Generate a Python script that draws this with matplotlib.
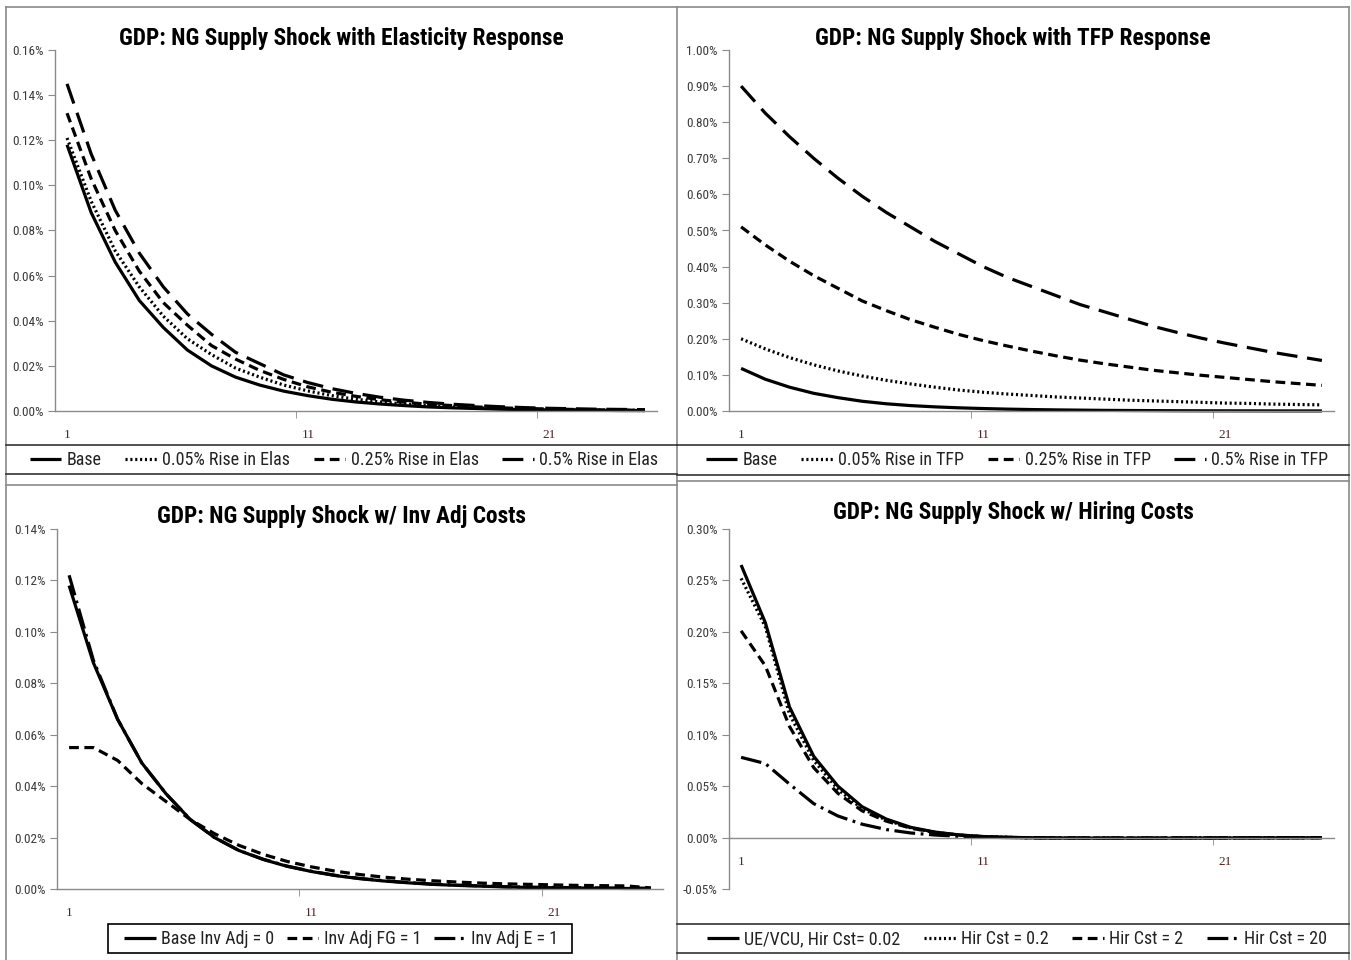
import matplotlib
matplotlib.use("Agg")
import matplotlib.pyplot as plt
from matplotlib import font_manager
from matplotlib.lines import Line2D
from matplotlib.patches import Rectangle
import numpy as np

# GDP impulse responses (% deviation), 25 quarters after the NG supply shock
periods = np.arange(1, 26)

base = [0.118, 0.088, 0.066, 0.049, 0.037, 0.027, 0.020, 0.015, 0.0115, 0.0088,
        0.0068, 0.0052, 0.0040, 0.0031, 0.0024, 0.0018, 0.0014, 0.0011, 0.0008, 0.0006,
        0.0005, 0.0004, 0.0003, 0.0002, 0.0002]

elas_005 = [0.121, 0.093, 0.071, 0.055, 0.042, 0.032, 0.025, 0.019, 0.015, 0.0115,
            0.0089, 0.0068, 0.0052, 0.0040, 0.0031, 0.0024, 0.0018, 0.0014, 0.0011, 0.0008,
            0.0006, 0.0005, 0.0004, 0.0003, 0.0002]
elas_025 = [0.132, 0.103, 0.080, 0.062, 0.048, 0.038, 0.029, 0.023, 0.018, 0.014,
            0.0107, 0.0083, 0.0065, 0.0050, 0.0039, 0.0030, 0.0024, 0.0018, 0.0014, 0.0011,
            0.0009, 0.0007, 0.0005, 0.0004, 0.0003]
elas_05 = [0.145, 0.114, 0.089, 0.070, 0.055, 0.043, 0.034, 0.026, 0.021, 0.016,
           0.0126, 0.0099, 0.0078, 0.0061, 0.0048, 0.0038, 0.0030, 0.0024, 0.0019, 0.0015,
           0.0012, 0.0010, 0.0008, 0.0007, 0.0006]

tfp_005 = [0.200, 0.172, 0.148, 0.128, 0.111, 0.097, 0.085, 0.075, 0.066, 0.058,
           0.052, 0.047, 0.043, 0.039, 0.036, 0.033, 0.030, 0.028, 0.026, 0.024,
           0.022, 0.021, 0.019, 0.018, 0.017]
tfp_025 = [0.510, 0.460, 0.415, 0.375, 0.340, 0.305, 0.278, 0.253, 0.232, 0.212,
           0.195, 0.180, 0.166, 0.153, 0.141, 0.131, 0.122, 0.113, 0.106, 0.099,
           0.093, 0.087, 0.081, 0.076, 0.071]
tfp_05 = [0.900, 0.825, 0.760, 0.700, 0.645, 0.595, 0.550, 0.510, 0.470, 0.435,
          0.400, 0.370, 0.345, 0.320, 0.295, 0.275, 0.255, 0.235, 0.218, 0.202,
          0.188, 0.175, 0.162, 0.151, 0.140]

inv_fg = [0.055, 0.055, 0.050, 0.041, 0.034, 0.027, 0.0215, 0.017, 0.0135, 0.0107,
          0.0086, 0.0069, 0.0056, 0.0046, 0.0038, 0.0032, 0.0027, 0.0023, 0.0020, 0.0018,
          0.0016, 0.0014, 0.0013, 0.0012, 0.0004]
inv_e = [0.122, 0.089, 0.066, 0.049, 0.037, 0.027, 0.020, 0.015, 0.0116, 0.0089,
         0.0069, 0.0053, 0.0041, 0.0032, 0.0025, 0.0019, 0.0015, 0.0012, 0.0009, 0.0007,
         0.0006, 0.0005, 0.0004, 0.0003, 0.0003]

hire_002 = [0.265, 0.209, 0.127, 0.079, 0.050, 0.030, 0.018, 0.0100, 0.0054, 0.0026,
            0.0010, 0.0003, -0.0002, -0.0004, -0.0005, -0.0006, -0.0006, -0.0006, -0.0005, -0.0005,
            -0.0004, -0.0004, -0.0003, -0.0003, -0.0002]
hire_02 = [0.252, 0.205, 0.120, 0.075, 0.047, 0.028, 0.017, 0.0095, 0.0051, 0.0024,
           0.0009, 0.0002, -0.0002, -0.0004, -0.0005, -0.0005, -0.0005, -0.0005, -0.0005, -0.0004,
           -0.0004, -0.0003, -0.0003, -0.0002, 0.0]
hire_2 = [0.201, 0.167, 0.108, 0.068, 0.043, 0.026, 0.016, 0.0092, 0.0050, 0.0024,
          0.0009, 0.0002, -0.0002, -0.0004, -0.0005, -0.0005, -0.0005, -0.0005, -0.0004, -0.0004,
          -0.0003, -0.0003, -0.0002, -0.0002, -0.0001]
hire_20 = [0.078, 0.072, 0.052, 0.033, 0.021, 0.013, 0.0078, 0.0045, 0.0025, 0.0012,
           0.0004, 0.0000, -0.0002, -0.0003, -0.0004, -0.0004, -0.0004, -0.0004, -0.0003, -0.0003,
           -0.0003, -0.0002, -0.0002, -0.0001, -0.0001]

W, H = 1351, 960

# pick a narrow sans if one is around, otherwise shrink the regular one
fonts = font_manager.fontManager.ttflist
names = {f.name for f in fonts}
if 'Liberation Sans Narrow' in names:
    FAMILY, STRETCH, K = 'Liberation Sans Narrow', 'normal', 1.0
elif 'Roboto Condensed' in names:
    FAMILY, STRETCH, K = 'Roboto Condensed', 'normal', 1.0
elif any(f.name == 'DejaVu Sans' and f.stretch == 'condensed' for f in fonts):
    FAMILY, STRETCH, K = 'DejaVu Sans', 'condensed', 0.88
else:
    FAMILY, STRETCH, K = 'DejaVu Sans', 'normal', 0.78
plt.rcParams['font.family'] = [FAMILY, 'DejaVu Sans']
plt.rcParams['font.stretch'] = STRETCH
plt.rcParams['lines.scale_dashes'] = False
SERIF = ['Liberation Serif', 'DejaVu Serif']

# line styles used in the original workbook
SOLID = dict(ls='-')
DOT = dict(ls=(0, (1.5, 2.0)))
DASH = dict(ls=(0, (7.0, 4.0)))
LONGDASH = dict(ls=(0, (15, 7)))
LONGDASHDOT = dict(ls=(0, (15, 4, 2, 4)))


def fx(x):
    return x / W


def fy(y):
    return 1 - y / H


fig = plt.figure(figsize=(W / 100, H / 100), dpi=100)
fig.patch.set_facecolor('white')


def hline(x0, x1, y, color='#333333', lw=1.2):
    fig.add_artist(Line2D([fx(x0), fx(x1)], [fy(y), fy(y)], transform=fig.transFigure,
                          color=color, lw=lw))


def vline(x, y0, y1, color='#8a8a8a', lw=1.2):
    fig.add_artist(Line2D([fx(x), fx(x)], [fy(y0), fy(y1)], transform=fig.transFigure,
                          color=color, lw=lw))


def panel(box, plot, ylim, yticks, title, series, legend_at, colspace=1.3):
    left, top, right, bottom = plot
    ax = fig.add_axes([fx(left), fy(bottom), (right - left) / W, (bottom - top) / H])
    for s in ('top', 'right'):
        ax.spines[s].set_visible(False)
    for s in ('left', 'bottom'):
        ax.spines[s].set_color('#8a8a8a')
        ax.spines[s].set_linewidth(1.0)
    if ylim[0] < 0:
        ax.spines['bottom'].set_position(('data', 0))

    handles = []
    for vals, style, label in series:
        ln, = ax.plot(periods, vals, color='black', lw=2.3, solid_capstyle='butt',
                      dash_capstyle='butt', clip_on=False, label=label, **style)
        handles.append(ln)
    ax.set_xlim(0.5, 25.5)
    ax.set_ylim(*ylim)
    ax.set_yticks(yticks)
    ax.set_yticklabels([f'{v:.2f}%' for v in yticks])
    ax.set_xticks([1, 11, 21])
    ax.set_xticklabels(['1', '11', '21'])
    for lab in ax.get_xticklabels():
        lab.set_fontfamily(SERIF)
        lab.set_fontsize(9.5)
        lab.set_color('#4d2424')
    ax.set_xticks([10.5, 20.5], minor=True)
    ax.tick_params(axis='x', which='major', length=0, pad=13)
    ax.tick_params(axis='x', which='minor', length=5, color='#8a8a8a', direction='out')
    ax.tick_params(axis='y', length=5, color='#8a8a8a', labelsize=9.5 * K,
                   labelcolor='#3a3a3a', pad=3)
    ax.set_facecolor('none')

    bx0, by0, bx1, by1 = box
    fig.text(fx((bx0 + bx1) / 2), fy(by0 + 31), title, ha='center', va='center',
             fontsize=16.8 * K, fontweight='bold', color='black')

    lx, ly = legend_at
    fig.legend(handles=handles, loc='center', bbox_to_anchor=(fx(lx), fy(ly)),
               bbox_transform=fig.transFigure, ncol=len(handles), frameon=False,
               fontsize=13 * K, handlelength=1.75, handletextpad=0.3,
               columnspacing=colspace, labelcolor='#222222')
    return ax


# outer panel frames
vline(6, 7, 960)
vline(677, 7, 960)
vline(1349, 7, 960)
hline(6, 1349, 7, color='#8a8a8a')
hline(6, 677, 485, color='#8a8a8a')
hline(677, 1349, 481, color='#8a8a8a')

# legend rows of the upper charts
hline(6, 677, 445)
hline(6, 677, 474)
hline(677, 1349, 445)
hline(677, 1349, 475)
# legend row of the lower right chart
hline(677, 1349, 924)
hline(677, 1349, 953)
# boxed legend of the lower left chart
fig.add_artist(Rectangle((fx(108), fy(953)), (572 - 108) / W, (953 - 924) / H,
                         transform=fig.transFigure, fill=False, ec='black', lw=1.2))

panel((6, 7, 677, 474), (55, 50, 657, 411), (0, 0.16), np.arange(0, 0.161, 0.02),
      'GDP: NG Supply Shock with Elasticity Response',
      [(base, SOLID, 'Base'),
       (elas_005, DOT, '0.05% Rise in Elas'),
       (elas_025, DASH, '0.25% Rise in Elas'),
       (elas_05, LONGDASH, '0.5% Rise in Elas')],
      (344, 460))

panel((677, 7, 1349, 475), (729, 50, 1334, 411), (0, 1.0), np.arange(0, 1.001, 0.1),
      'GDP: NG Supply Shock with TFP Response',
      [(base, SOLID, 'Base'),
       (tfp_005, DOT, '0.05% Rise in TFP'),
       (tfp_025, DASH, '0.25% Rise in TFP'),
       (tfp_05, LONGDASH, '0.5% Rise in TFP')],
      (1017, 460))

panel((6, 485, 677, 960), (57, 529, 663, 889), (0, 0.14), np.arange(0, 0.141, 0.02),
      'GDP: NG Supply Shock w/ Inv Adj Costs',
      [(base, SOLID, 'Base Inv Adj = 0'),
       (inv_fg, DASH, 'Inv Adj FG = 1'),
       (inv_e, LONGDASHDOT, 'Inv Adj E = 1')],
      (341, 939), colspace=0.7)

panel((677, 481, 1349, 960), (729, 529, 1334, 889), (-0.05, 0.30),
      np.arange(-0.05, 0.301, 0.05),
      'GDP: NG Supply Shock w/ Hiring Costs',
      [(hire_002, SOLID, 'UE/VCU, Hir Cst= 0.02'),
       (hire_02, DOT, 'Hir Cst = 0.2'),
       (hire_2, DASH, 'Hir Cst = 2'),
       (hire_20, LONGDASHDOT, 'Hir Cst = 20')],
      (1017, 939))

fig.savefig('out.png', dpi=100, facecolor='white')
